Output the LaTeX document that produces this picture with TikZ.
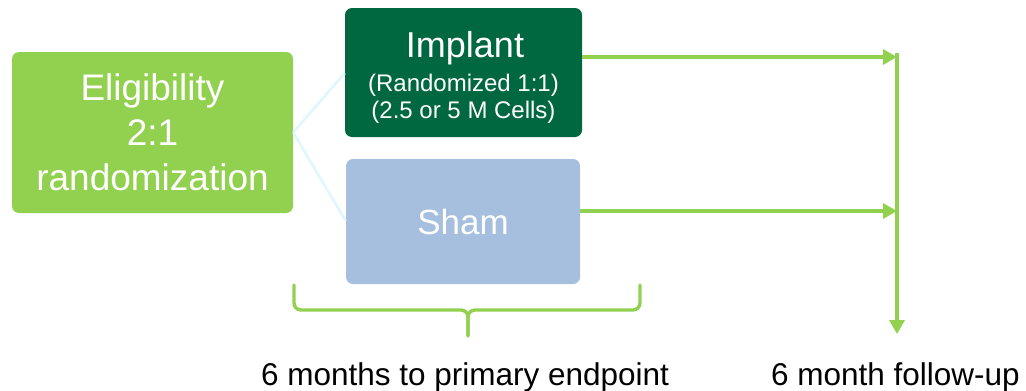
\documentclass[tikz,border=0pt]{standalone}
\usepackage{fontspec}
\setmainfont{Liberation Sans}
\usetikzlibrary{arrows.meta,calc}
\definecolor{lgreen}{HTML}{92D050}
\definecolor{dgreen}{HTML}{006841}
\definecolor{shamblue}{HTML}{A7BFDE}
\definecolor{cyanline}{HTML}{DDF6FF}
\begin{document}
\begin{tikzpicture}[x=1pt,y=-1pt,
  box/.style={rectangle, rounded corners=7pt, inner sep=0pt, text=white, align=center},
  boxtext/.style={text=white, inner sep=0pt, anchor=base},
  splitline/.style={draw=cyanline, line width=2.4pt},
  garrow/.style={draw=lgreen, line width=3.4pt, -{Triangle[length=14pt,width=15pt]}},
  bracestyle/.style={draw=lgreen, line width=3.4pt, rounded corners=7pt, line cap=round},
  caption/.style={font=\fontsize{31.5}{36}\selectfont, text=black, anchor=base, inner sep=0pt}
]
\useasboundingbox (0,0) rectangle (1026,391);

\node[box, fill=lgreen, minimum width=281pt, minimum height=161pt,
      font=\fontsize{37}{45}\selectfont] (elig) at (152.5,132.5)
      {Eligibility\\2:1\\randomization};
\node[box, fill=dgreen, minimum width=237pt, minimum height=129pt] (imp) at (463.5,72.5) {};
\node[boxtext, font=\fontsize{36}{40}\selectfont] (imptxt) at (465,57) {Implant};
\node[boxtext, font=\fontsize{24}{27}\selectfont] (imptxt2) at (463.5,91) {(Randomized 1:1)};
\node[boxtext, font=\fontsize{24}{27}\selectfont] (imptxt3) at (463.5,118) {(2.5 or 5 M Cells)};
\node[box, fill=shamblue, minimum width=234pt, minimum height=125pt,
      font=\fontsize{35}{40}\selectfont] (sham) at (463,221.5) {Sham};

\coordinate (split) at (elig.east);
\draw[splitline] (split) -- (imp.west |- 0,73);
\draw[splitline] (split) -- (sham.west |- 0,221);

\coordinate (vtop) at (897,53);
\coordinate (vbot) at (897,334);
\draw[garrow] ([yshift=15.5pt]imp.east) -- ([yshift=15.5pt]imp.east -| vtop);
\draw[garrow] ([yshift=10.5pt]sham.east) -- ([yshift=10.5pt]sham.east -| vtop);
\draw[garrow] (vtop) -- (vbot);

\coordinate (bl) at (294,285);
\coordinate (br) at (640,285);
\coordinate (btip) at (468,336);
\draw[bracestyle] (bl) -- (bl |- 0,310) -- (btip |- 0,310) -- (btip);
\draw[bracestyle] (br) -- (br |- 0,310) -- (btip |- 0,310) -- (btip);

\node[caption] (cap1) at (465,385) {6 months to primary endpoint};
\node[caption] (cap2) at (895.5,385) {6 month follow-up};
\end{tikzpicture}
\end{document}
